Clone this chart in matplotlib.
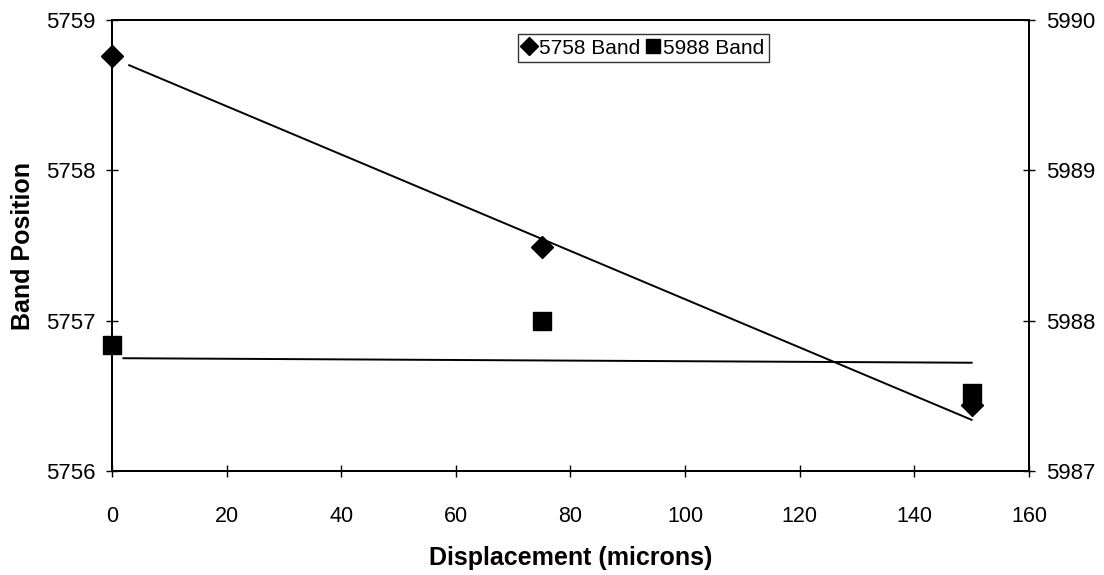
import numpy as np
import matplotlib
matplotlib.use('Agg')
from matplotlib import pyplot as plt

plt.rcParams['font.family'] = ['Liberation Sans', 'DejaVu Sans']

# displacement (microns)
x = [0, 75, 150]
# 5758 band positions (left axis)
band5758 = [5758.76, 5757.49, 5756.44]
# 5988 band positions (right axis)
band5988 = [5987.84, 5988.0, 5987.52]

# trend lines
trend5758_x = [3, 150]
trend5758_y = [5758.70, 5756.34]
trend5988_x = [2, 150]
trend5988_y = [5987.75, 5987.72]

fig = plt.figure(figsize=(11.04, 5.75), dpi=100)
ax = fig.add_axes([0.1014, 0.181, 0.8306, 0.784])
ax2 = ax.twinx()

ax.plot(x, band5758, linestyle='none', marker='D', color='black', markersize=11,
        clip_on=False, zorder=5, label='5758 Band')
ax.plot(trend5758_x, trend5758_y, color='black', linewidth=1.4)

ax2.plot(x, band5988, linestyle='none', marker='s', color='black', markersize=12.5,
         clip_on=False, zorder=5, label='5988 Band')
ax2.plot(trend5988_x, trend5988_y, color='black', linewidth=1.4)

ax.set_xlim(0, 160)
ax.set_ylim(5756, 5759)
ax2.set_ylim(5987, 5990)
ax.set_xticks(np.arange(0, 161, 20))
ax.set_yticks([5756, 5757, 5758, 5759])
ax2.set_yticks([5987, 5988, 5989, 5990])
ax.yaxis.set_major_formatter(matplotlib.ticker.FormatStrFormatter('%d'))
ax2.yaxis.set_major_formatter(matplotlib.ticker.FormatStrFormatter('%d'))

ax.tick_params(axis='y', direction='inout', length=8, width=1, labelsize=16, pad=8)
ax2.tick_params(axis='y', direction='inout', length=8, width=1, labelsize=16, pad=8)
ax.tick_params(axis='x', direction='inout', length=8, width=1, labelsize=15.5, pad=21)

for a in (ax, ax2):
    for s in a.spines.values():
        s.set_linewidth(1.4)

ax.set_xlabel('Displacement (microns)', fontsize=18, fontweight='bold', labelpad=14)
ax.set_ylabel('Band Position', fontsize=18, fontweight='bold', labelpad=8)

h1, l1 = ax.get_legend_handles_labels()
h2, l2 = ax2.get_legend_handles_labels()
leg = fig.legend(h1 + h2, l1 + l2, ncol=2, loc='center', bbox_to_anchor=(0.583, 0.9165),
                 fontsize=15, frameon=True, fancybox=False, edgecolor='black',
                 handlelength=0.6, handletextpad=0.2, columnspacing=0.3,
                 borderpad=0.2, borderaxespad=0, markerscale=0.85)
leg.get_frame().set_linewidth(1.0)

fig.savefig('out.png', dpi=100)
